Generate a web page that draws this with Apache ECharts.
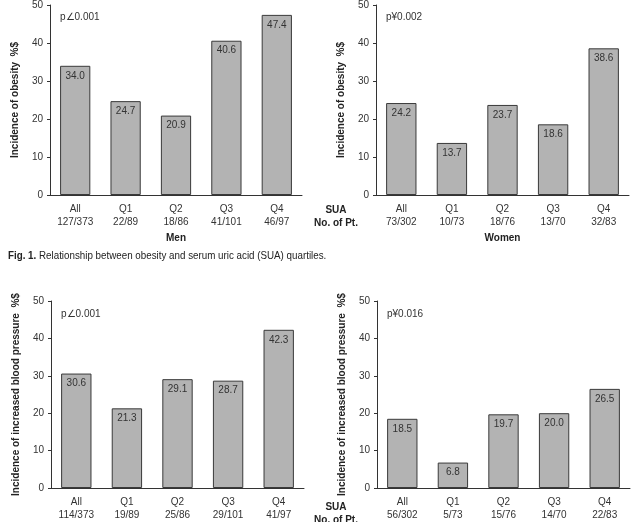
<!DOCTYPE html>
<html>
<head>
<meta charset="utf-8">
<script src="https://cdn.jsdelivr.net/npm/echarts@6/dist/echarts.min.js"></script>
<style>
  html, body { margin: 0; padding: 0; background: #fff; }
  #chart { width: 638px; height: 522px; }
</style>
</head>
<body>
<div id="chart"></div>
<script>
  // categories and values
  var categories = ['All', 'Q1', 'Q2', 'Q3', 'Q4'];
  var obesityMen = [34.0, 24.7, 20.9, 40.6, 47.4];
  var obesityWomen = [24.2, 13.7, 23.7, 18.6, 38.6];
  var bpMen = [30.6, 21.3, 29.1, 28.7, 42.3];
  var bpWomen = [18.5, 6.8, 19.7, 20.0, 26.5];
  var ptObesityMen = ['127/373', '22/89', '18/86', '41/101', '46/97'];
  var ptObesityWomen = ['73/302', '10/73', '18/76', '13/70', '32/83'];
  var ptBpMen = ['114/373', '19/89', '25/86', '29/101', '41/97'];
  var ptBpWomen = ['56/302', '5/73', '15/76', '14/70', '22/83'];
  var pValues = ['p\u22200.001', 'p\u00a50.002', 'p\u22200.001', 'p\u00a50.016'];
  var yNames = ['Incidence of obesity  %$', 'Incidence of obesity  %$',
                'Incidence of increased blood pressure  %$', 'Incidence of increased blood pressure  %$'];
  var groupNames = ['Men', 'Women', '', ''];

  var FONT = '"Liberation Sans", Arial, sans-serif';
  var panels = [
    { grid: { left: 50, top: 4, width: 252, height: 191 }, data: obesityMen, pts: ptObesityMen },
    { grid: { left: 376, top: 4, width: 253, height: 191 }, data: obesityWomen, pts: ptObesityWomen },
    { grid: { left: 51, top: 301, width: 253, height: 191 }, data: bpMen, pts: ptBpMen },
    { grid: { left: 377, top: 301, width: 253, height: 191 }, data: bpWomen, pts: ptBpWomen }
  ];

  var grids = [], xAxes = [], yAxes = [], series = [], graphics = [];
  panels.forEach(function (p, i) {
    grids.push(p.grid);
    xAxes.push({
      type: 'category', gridIndex: i, data: categories,
      name: groupNames[i], nameLocation: 'middle', nameGap: 38,
      nameTextStyle: { fontFamily: FONT, fontSize: 10, fontWeight: 'bold', color: '#222' },
      axisLine: { lineStyle: { color: '#333', width: 1 } },
      axisTick: { inside: true, length: 3, lineStyle: { color: '#333' } },
      axisLabel: {
        margin: 8, fontFamily: FONT, fontSize: 10, color: '#333', lineHeight: 13,
        formatter: function (v, idx) { return v + '\n' + p.pts[idx]; }
      }
    });
    yAxes.push({
      type: 'value', gridIndex: i, min: 0, max: 50, interval: 10,
      name: yNames[i], nameLocation: 'middle', nameGap: 30, nameRotate: 90,
      nameTextStyle: { fontFamily: FONT, fontSize: 10, fontWeight: 'bold', color: '#222' },
      axisLine: { show: true, lineStyle: { color: '#333', width: 1 } },
      axisTick: { show: true, length: 3, lineStyle: { color: '#333' } },
      splitLine: { show: false },
      axisLabel: { margin: 7, fontFamily: FONT, fontSize: 10, color: '#333' }
    });
    series.push({
      type: 'bar', xAxisIndex: i, yAxisIndex: i, data: p.data, barWidth: '60%',
      itemStyle: { color: '#b3b3b3', borderColor: '#3a3a3a', borderWidth: 1 },
      label: {
        show: true, position: 'insideTop', distance: 5,
        fontFamily: FONT, fontSize: 10, color: '#333',
        formatter: function (d) { return d.value.toFixed(1); }
      }
    });
    graphics.push({
      type: 'text', left: p.grid.left + 10, top: p.grid.top + 8,
      style: { text: pValues[i], font: '10px ' + FONT, fill: '#333' }
    });
  });

  // row labels between the panels
  [196, 493].forEach(function (y) {
    graphics.push({
      type: 'text', x: 336, y: y + 8,
      style: { text: 'SUA\nNo. of Pt.', font: 'bold 10px ' + FONT, fill: '#222',
               align: 'center', lineHeight: 13 }
    });
  });

  graphics.push({
    type: 'text', x: 8, y: 250, scaleX: 0.89,
    style: {
      text: '{b|Fig. 1.} Relationship between obesity and serum uric acid (SUA) quartiles.',
      rich: {
        b: { font: 'bold 11px ' + FONT, fill: '#222' }
      },
      font: '11px ' + FONT, fill: '#222'
    }
  });

  var chart = echarts.init(document.getElementById('chart'));
  chart.setOption({
    animation: false,
    grid: grids,
    xAxis: xAxes,
    yAxis: yAxes,
    series: series,
    graphic: graphics
  });
</script>
</body>
</html>
